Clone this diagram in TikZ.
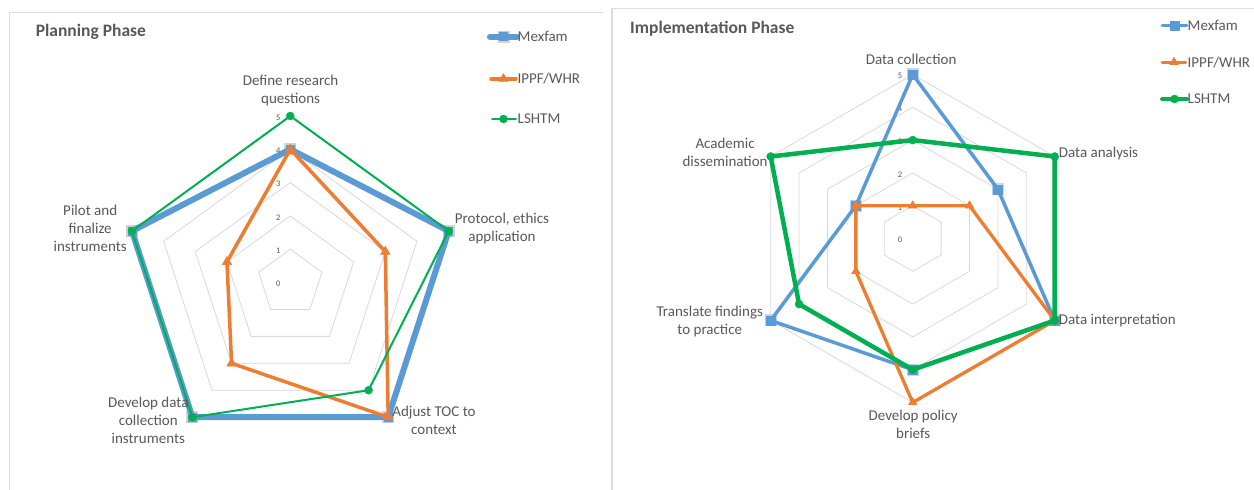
\documentclass[tikz,border=0pt]{standalone}
\usepackage{fontspec}
\setmainfont{Carlito}
\usetikzlibrary{plotmarks}

\definecolor{mexblue}{HTML}{5B9BD5}
\definecolor{ippforange}{HTML}{ED7D31}
\definecolor{lshgreen}{HTML}{00B050}
\definecolor{gridgray}{HTML}{D9D9D9}
\definecolor{framegray}{HTML}{DCDCDC}
\definecolor{labelgray}{HTML}{595959}
\definecolor{shadowgray}{HTML}{C4C8CE}
\definecolor{glowblue}{HTML}{B4CEF0}

\begin{document}
\begin{tikzpicture}[x=1pt,y=1pt,
	gridline/.style={draw=gridgray,line width=0.8pt},
	panelframe/.style={draw=framegray,line width=1.2pt},
	ticklabel/.style={font=\fontsize{8.5}{10}\selectfont,text=labelgray,inner sep=0pt},
	catlabel/.style={font=\fontsize{15}{18}\selectfont,text=labelgray,align=center,inner sep=0pt},
	legendtext/.style={font=\fontsize{15}{17}\selectfont,text=labelgray,anchor=west,inner sep=0pt},
	charttitle/.style={font=\bfseries\fontsize{17.5}{20}\selectfont,text=labelgray,anchor=west,inner sep=0pt},
	mexPlan/.style={draw=mexblue,line width=6pt,line join=round,line cap=round,mark=square*,mark size=4pt,
		mark options={solid,draw=mexblue,fill=mexblue,line width=0.4pt}},
	ippfPlan/.style={draw=ippforange,line width=3.5pt,line join=round,line cap=round,mark=triangle*,mark size=5.5pt,
		mark options={solid,draw=ippforange,fill=ippforange,line width=0.4pt}},
	lshPlan/.style={draw=lshgreen,line width=2pt,line join=round,line cap=round,mark=*,mark size=4pt,
		mark options={solid,draw=lshgreen,fill=lshgreen,line width=0.4pt}},
	mexImpl/.style={draw=mexblue,line width=3.5pt,line join=round,line cap=round,mark=square*,mark size=4.5pt,
		mark options={solid,draw=mexblue,fill=mexblue,line width=0.4pt}},
	ippfImpl/.style={draw=ippforange,line width=3.3pt,line join=round,line cap=round,mark=triangle*,mark size=5pt,
		mark options={solid,draw=ippforange,fill=ippforange,line width=0.4pt}},
	lshImpl/.style={draw=lshgreen,line width=4.5pt,line join=round,line cap=round,mark=*,mark size=4pt,
		mark options={solid,draw=lshgreen,fill=lshgreen,line width=0.4pt}},
	haloPlan/.style={mark=square*,mark size=5.5pt,mark options={draw=shadowgray,fill=shadowgray,line width=1pt,opacity=0.8}},
	haloImpl/.style={mark=square*,mark size=5.5pt,mark options={draw=glowblue,fill=glowblue,line width=1pt,opacity=0.8}}]

		\fill[white] (0,0) rectangle (1254,490);
		\useasboundingbox (0,0) rectangle (1254,490);

		%% panel frames
		\draw[panelframe] (9.3,-3) -- (9.3,477.7) -- (603.3,477.7);
		\draw[panelframe] (612,-3) -- (612,481.7) -- (1257,481.7);

		\node[charttitle] (PlanTitle) at (35.6,458.3) {Planning Phase};
		\node[charttitle] (ImplTitle) at (630,461) {Implementation Phase};

		%%% Planning Phase radar
		\begin{scope}[shift={(290.3,207.5)},x=33.3pt,y=33.3pt]
			\foreach \r in {1,...,5}
				\draw[gridline] (90:\r) -- (18:\r) -- (-54:\r) -- (-126:\r) -- (162:\r) -- cycle;
			\foreach \r in {0,...,5}
				\node[ticklabel] (tickPlan\r) at (-0.36,\r-0.05) {\r};

			\path[haloPlan] plot[only marks] coordinates {(90:4) (18:5) (-54:5) (-126:5) (162:5)};
			\draw[mexPlan] plot coordinates {(90:4) (18:5) (-54:5) (-126:5) (162:5)} -- cycle;
			\draw[ippfPlan] plot coordinates {(90:4) (18:3) (-54:5) (-126:3) (162:2)} -- cycle;
			\draw[lshPlan] plot coordinates {(90:5) (18:5) (-54:4) (-126:5) (162:5)} -- cycle;
		\end{scope}

		\node[catlabel] (DefineQ) at (290.6,399.7) {Define research\\questions};
		\node[catlabel] (Protocol) at (502,261.7) {Protocol, ethics\\application};
		\node[catlabel] (AdjustTOC) at (434,69.2) {Adjust TOC to\\context};
		\node[catlabel] (DevelopData) at (148.3,69.8) {Develop data\\collection\\instruments};
		\node[catlabel] (Pilot) at (90.2,261.4) {Pilot and\\finalize\\instruments};

		\path[haloPlan] plot[only marks] coordinates {(503.5,453.3)};
		\draw[mexPlan] plot[mark indices={2}] coordinates {(490,453.3) (503.5,453.3) (517,453.3)};
		\draw[ippfPlan] plot[mark indices={2}] coordinates {(491,411) (503.5,411) (516,411)};
		\draw[lshPlan] plot[mark indices={2}] coordinates {(492,371) (503.5,371) (516,371)};
		\node[legendtext] (MexPlanKey) at (517.5,453.3) {Mexfam};
		\node[legendtext] (IppfPlanKey) at (517.5,411) {IPPF/WHR};
		\node[legendtext] (LshPlanKey) at (517.5,371) {LSHTM};

		%%% Implementation Phase radar
		\begin{scope}[shift={(912.7,251.5)},x=32.8pt,y=32.8pt]
			\foreach \r in {1,...,5}
				\draw[gridline] (90:\r) -- (30:\r) -- (-30:\r) -- (-90:\r) -- (-150:\r) -- (150:\r) -- cycle;
			\foreach \r in {0,...,5}
				\node[ticklabel] (tickImpl\r) at (-0.39,\r-0.05) {\r};

			\path[haloImpl] plot[only marks] coordinates {(90:5) (30:3) (-30:5) (-90:4) (-150:5) (150:2)};
			\draw[mexImpl] plot coordinates {(90:5) (30:3) (-30:5) (-90:4) (-150:5) (150:2)} -- cycle;
			\draw[ippfImpl] plot coordinates {(90:1) (30:2) (-30:5) (-90:5) (-150:2) (150:2)} -- cycle;
			\draw[lshImpl] plot coordinates {(90:3) (30:5) (-30:5) (-90:4) (-150:4) (150:5)} -- cycle;
		\end{scope}

		\node[catlabel] (DataColl) at (911.1,430.7) {Data collection};
		\node[catlabel,anchor=west] (DataAna) at (1058.7,336) {Data analysis};
		\node[catlabel,anchor=west] (DataInt) at (1058.7,169.3) {Data interpretation};
		\node[catlabel] (PolicyBriefs) at (913.2,65.5) {Develop policy\\briefs};
		\node[catlabel] (Translate) at (709.8,168.3) {Translate findings\\to practice};
		\node[catlabel] (Academic) at (725.1,337.2) {Academic\\dissemination};

		\draw[mexImpl] plot[mark indices={2}] coordinates {(1162.3,464.3) (1174.5,464.3) (1186.7,464.3)};
		\draw[ippfImpl] plot[mark indices={2}] coordinates {(1162.3,427.7) (1174,427.7) (1185.5,427.7)};
		\draw[lshImpl] plot[mark indices={2}] coordinates {(1162.3,391) (1174.5,391) (1186.7,391)};
		\node[legendtext] (MexImplKey) at (1187.5,464.3) {Mexfam};
		\node[legendtext] (IppfImplKey) at (1187.5,427.7) {IPPF/WHR};
		\node[legendtext] (LshImplKey) at (1187.5,391) {LSHTM};
	\end{tikzpicture}
\end{document}
